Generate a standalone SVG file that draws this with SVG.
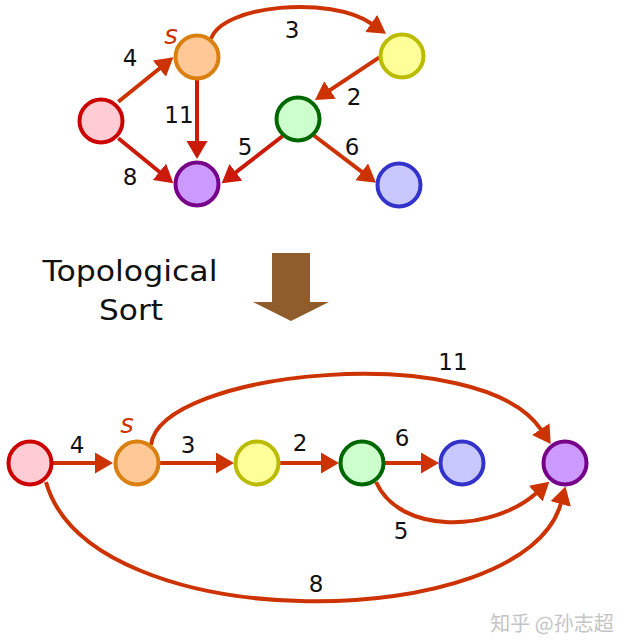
<svg xmlns="http://www.w3.org/2000/svg" width="627" height="640" viewBox="0 0 627 640">
<style>
.e{fill:none;stroke:#cc3300;stroke-width:4}
.er{fill:none;stroke:#cc1a0a;stroke-width:4}
.n{stroke-width:4}
.lbl{font-family:"DejaVu Sans",Verdana,sans-serif;font-size:23px;fill:#111;text-anchor:middle}
.s{font-family:"DejaVu Sans",sans-serif;font-size:26px;font-style:italic;fill:#cc3300;text-anchor:middle}
.pink{fill:#ffccd4;stroke:#cc0000}
.orange{fill:#ffc896;stroke:#d98010}
.yellow{fill:#ffff99;stroke:#bbbb00}
.green{fill:#ccffcc;stroke:#006600}
.blue{fill:#c8c8ff;stroke:#3333cc}
.purple{fill:#cc99ff;stroke:#770088}
</style>
<defs>
<marker id="a" markerUnits="userSpaceOnUse" markerWidth="20" markerHeight="22" refX="1" refY="10.5" orient="auto"><path d="M0,0 L18,10.5 L0,21 z" fill="#cc3300"/></marker>
<marker id="ar" markerUnits="userSpaceOnUse" markerWidth="20" markerHeight="22" refX="1" refY="10.5" orient="auto"><path d="M0,0 L18,10.5 L0,21 z" fill="#cc1a0a"/></marker>
</defs>
<rect width="627" height="640" fill="#fff"/>
<g id="connectors">
<path class="e" d="M118.3,101.7 L160.1,68" marker-end="url(#a)"/>
<path class="er" d="M197,80 L197,142" marker-end="url(#ar)"/>
<path class="er" d="M118.3,138.3 L160.2,172.5" marker-end="url(#ar)"/>
<path class="e" d="M211,39 C222,5 330,-5 372,24" marker-end="url(#a)"/>
<path class="e" d="M379.3,57.3 L329.2,90.6" marker-end="url(#a)"/>
<path class="e" d="M313.3,135 L362.5,172.4" marker-end="url(#a)"/>
<path class="er" d="M282.7,136 L235.1,172.9" marker-end="url(#ar)"/>
<path class="e" d="M53,463 L96,463" marker-end="url(#a)"/>
<path class="e" d="M159,463 L217,463" marker-end="url(#a)"/>
<path class="e" d="M280,463 L322,463" marker-end="url(#a)"/>
<path class="e" d="M385,463 L422,463" marker-end="url(#a)"/>
<path class="e" d="M151,445 C160,370 480.5,338.7 541.3,429.9" marker-end="url(#a)"/>
<path class="e" d="M376,482 C400,535 491.5,532.5 536.5,492.9" marker-end="url(#a)"/>
<path class="e" d="M46,482 C90,640 525,635 561,503" marker-end="url(#a)"/>
</g>
<g id="labels">
<text class="lbl" x="130" y="66">4</text>
<text class="lbl" x="179" y="123">11</text>
<text class="lbl" x="130" y="185">8</text>
<text class="lbl" x="292" y="38">3</text>
<text class="lbl" x="354" y="105">2</text>
<text class="lbl" x="245" y="155">5</text>
<text class="lbl" x="352" y="155">6</text>
<text class="s" x="171" y="44">s</text>
<text class="lbl" x="77" y="453">4</text>
<text class="lbl" x="188" y="453">3</text>
<text class="lbl" x="300" y="451">2</text>
<text class="lbl" x="402" y="446">6</text>
<text class="lbl" x="453" y="370">11</text>
<text class="lbl" x="401" y="539">5</text>
<text class="lbl" x="316" y="592">8</text>
<text class="s" x="127" y="433">s</text>
</g>
<g id="top-pink"><circle class="n pink" cx="101" cy="121" r="21.5"/></g>
<g id="top-orange"><circle class="n orange" cx="197" cy="57" r="21.5"/></g>
<g id="top-yellow"><circle class="n yellow" cx="402" cy="56" r="21.5"/></g>
<g id="top-green"><circle class="n green" cx="298" cy="119" r="21.5"/></g>
<g id="top-purple"><circle class="n purple" cx="197" cy="184" r="21.5"/></g>
<g id="top-blue"><circle class="n blue" cx="399" cy="185" r="21.5"/></g>
<g id="bot-pink"><circle class="n pink" cx="30" cy="463" r="21.5"/></g>
<g id="bot-orange"><circle class="n orange" cx="137" cy="463" r="21.5"/></g>
<g id="bot-yellow"><circle class="n yellow" cx="257" cy="463" r="21.5"/></g>
<g id="bot-green"><circle class="n green" cx="362" cy="463" r="21.5"/></g>
<g id="bot-blue"><circle class="n blue" cx="462" cy="463" r="21.5"/></g>
<g id="bot-purple"><circle class="n purple" cx="565" cy="463" r="21.5"/></g>
<g id="title">
<text x="130" y="281" font-family="'DejaVu Sans',sans-serif" font-size="28" fill="#111" text-anchor="middle" textLength="175" lengthAdjust="spacingAndGlyphs">Topological</text>
<text x="131" y="320" font-family="'DejaVu Sans',sans-serif" font-size="28" fill="#111" text-anchor="middle" textLength="64" lengthAdjust="spacingAndGlyphs">Sort</text>
</g>
<g id="big-arrow"><path d="M272,253 L310,253 L310,302 L329,302 L291,321 L253,302 L272,302 z" fill="#8f5c2c"/></g>
<text x="552" y="631" font-family="'Noto Sans CJK SC',sans-serif" font-size="20" fill="#c4c4c4" text-anchor="middle">知乎 @孙志超</text>
</svg>
